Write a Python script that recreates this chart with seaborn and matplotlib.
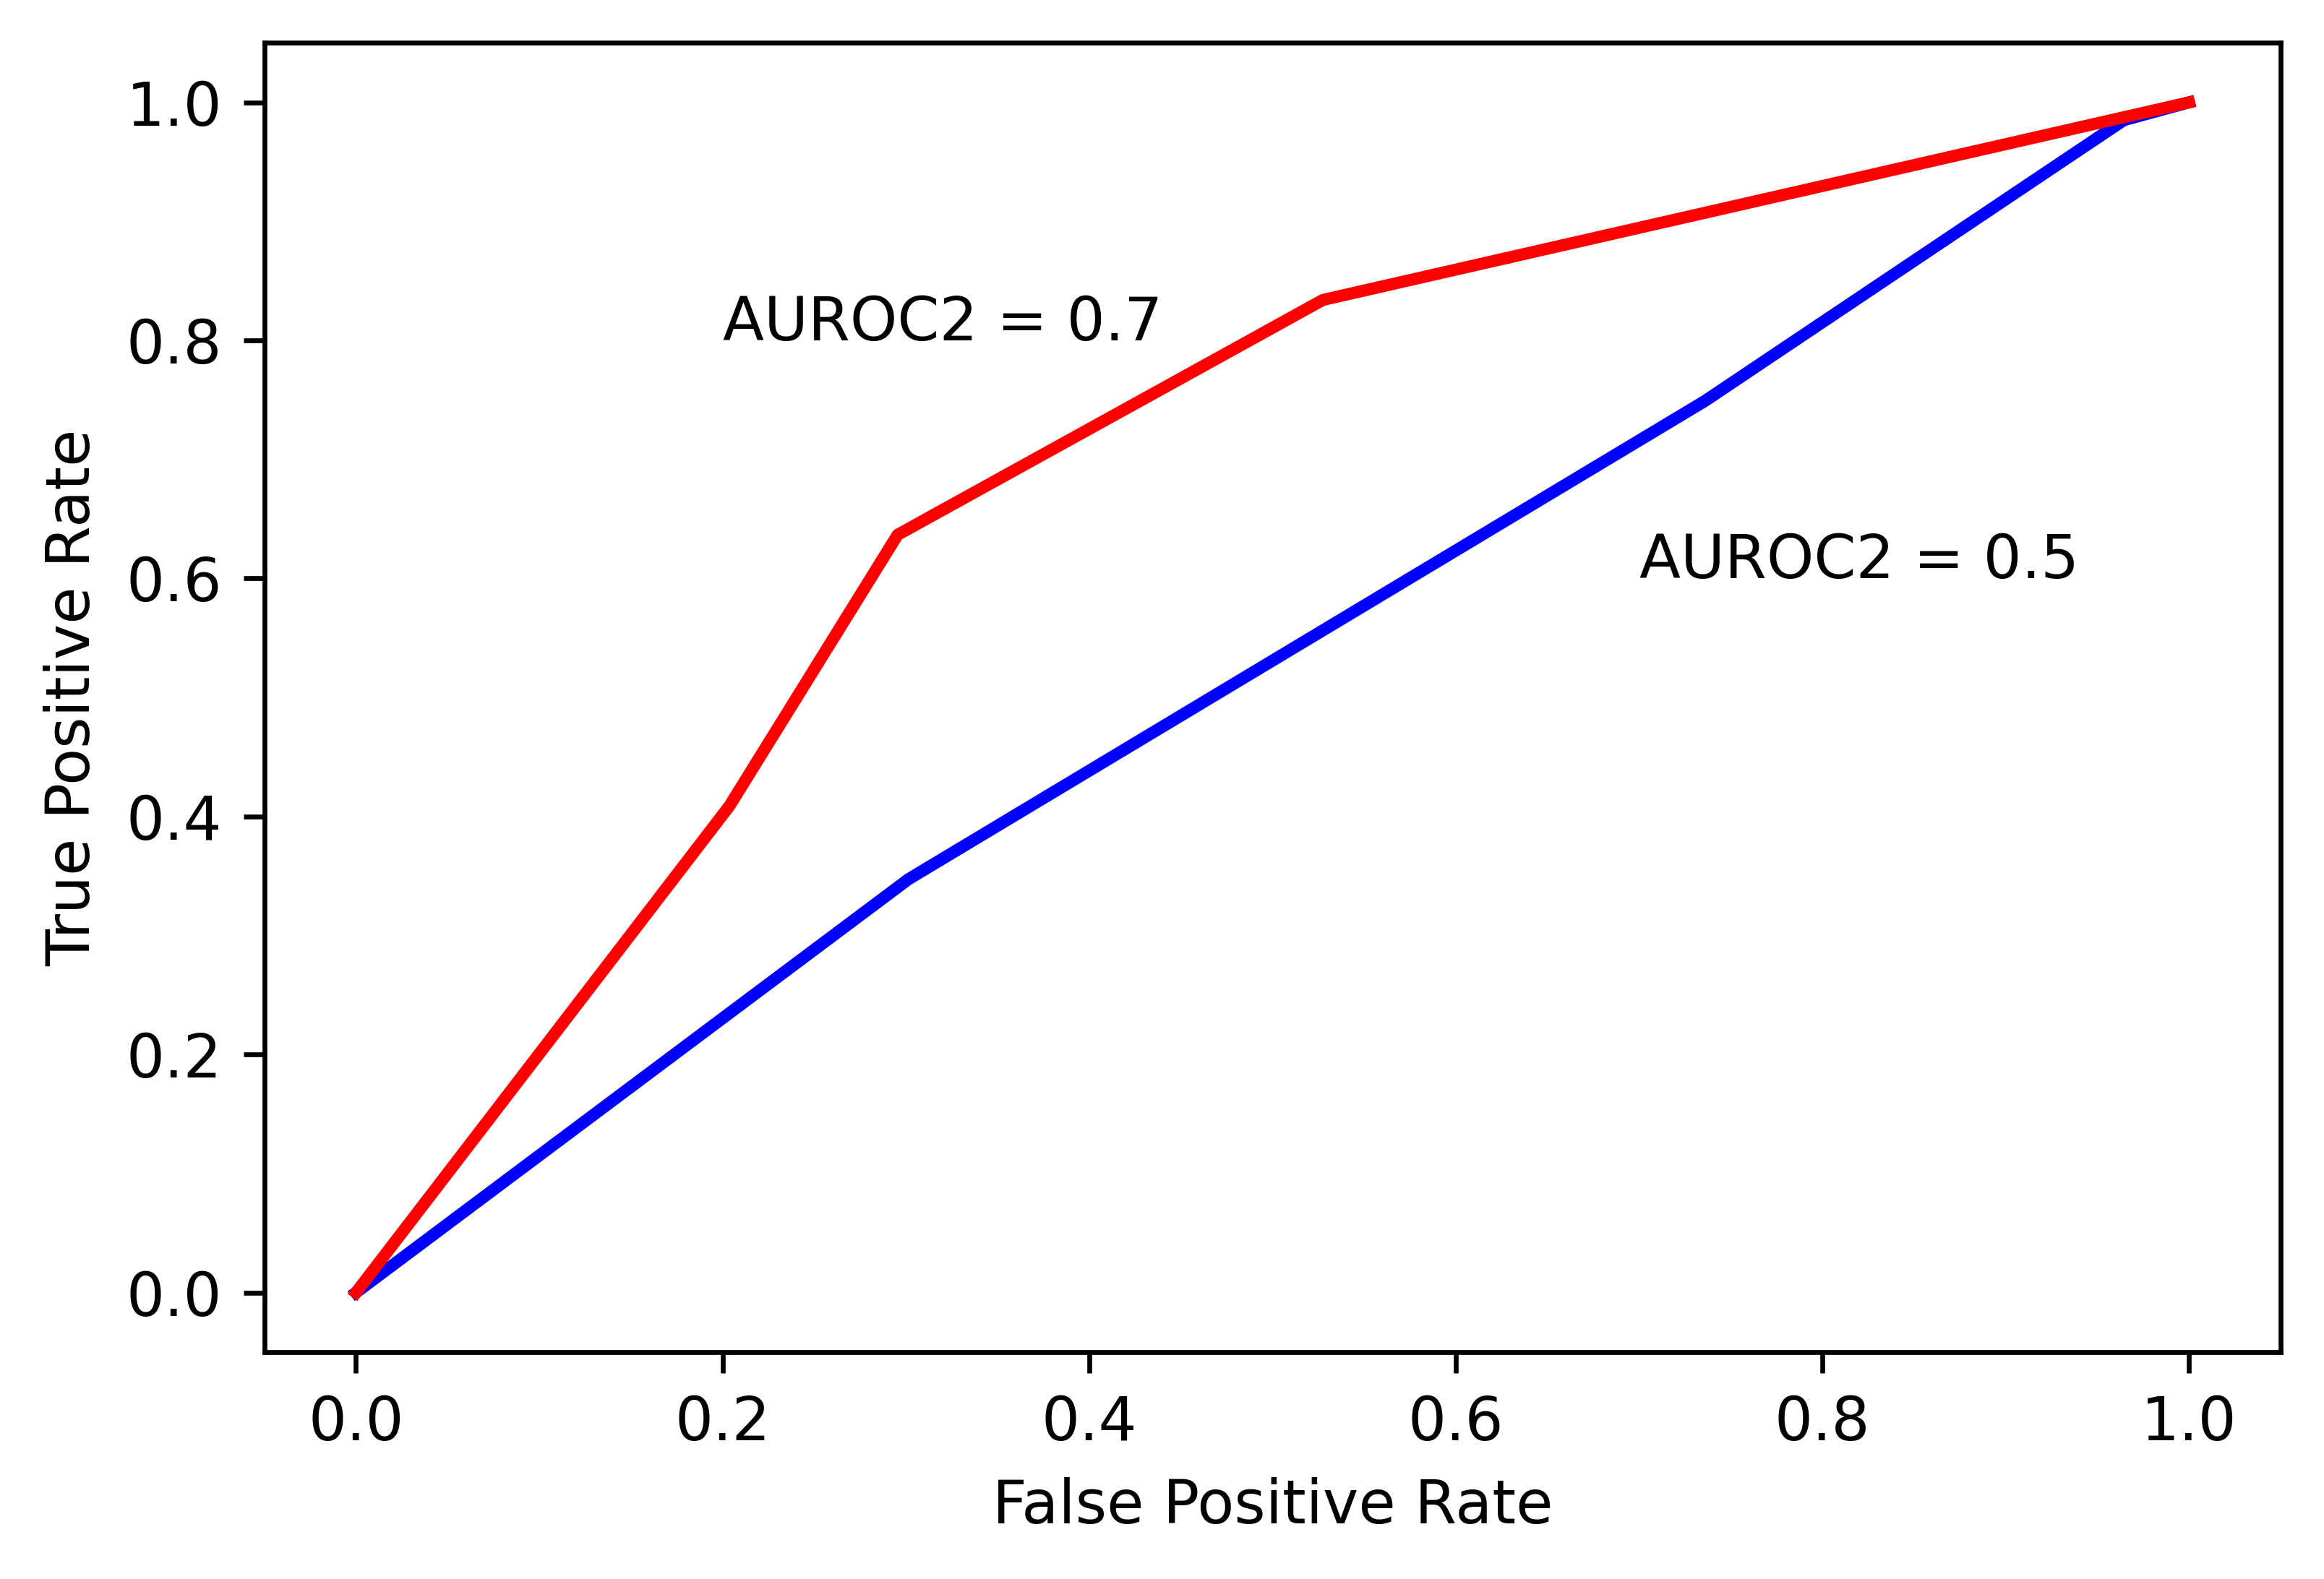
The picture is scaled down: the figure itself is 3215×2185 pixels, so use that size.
"""
ROC curves for two models with their AUROC annotations.
"""

import matplotlib
matplotlib.use('Agg')
import matplotlib.pyplot as plt
import seaborn as sns
import numpy as np

# ROC points
fpr_model1 = [0.0, 0.3014, 0.7358, 0.9644, 1.0]
tpr_model1 = [0.0, 0.3473, 0.7490, 0.9850, 1.0]

fpr_model2 = [0.0, 0.2038, 0.2955, 0.5275, 1.0]
tpr_model2 = [0.0, 0.4090, 0.6367, 0.8340, 1.0]

auroc_labels = ['AUROC2 = 0.5', 'AUROC2 = 0.7']
label_pos_x = [0.7, 0.2]
label_pos_y = [0.6, 0.8]

# figure: 3215 x 2185 px at 600 dpi
fig = plt.figure(figsize=(3215 / 600, 2185 / 600), dpi=600)
ax = fig.add_axes([0.11375, 0.14371, 0.98134 - 0.11375, 0.97286 - 0.14371])

sns.lineplot(x=fpr_model1, y=tpr_model1, color='blue', linewidth=2,
             estimator=None, sort=False, ax=ax)
sns.lineplot(x=fpr_model2, y=tpr_model2, color='red', linewidth=2,
             estimator=None, sort=False, ax=ax)

for txt, tx, ty in zip(auroc_labels, label_pos_x, label_pos_y):
    ax.text(tx, ty, txt)

ax.set_xlabel('False Positive Rate')
ax.set_ylabel('True Positive Rate')

fig.savefig('out.png', dpi=600)
plt.close(fig)
